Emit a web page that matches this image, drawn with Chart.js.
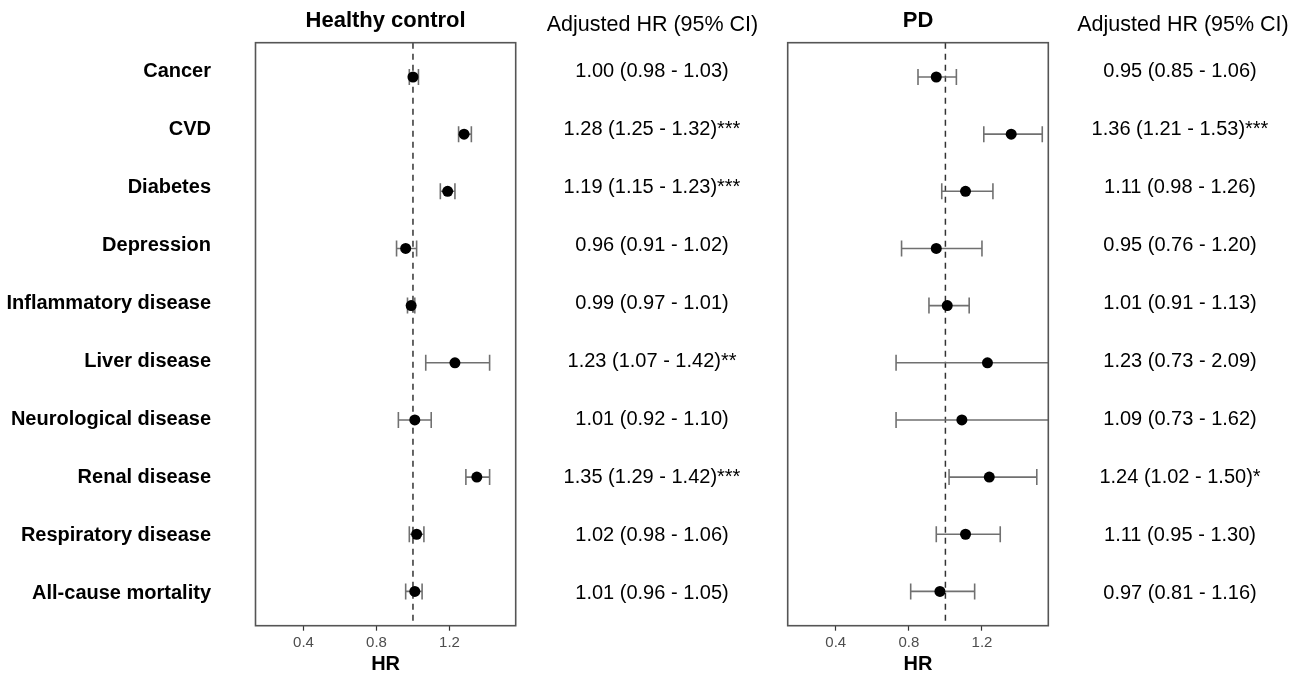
<!DOCTYPE html>
<html><head><meta charset="utf-8">
<script src="https://cdn.jsdelivr.net/npm/chart.js@4.4.0/dist/chart.umd.min.js"></script>
<style>
html,body{margin:0;padding:0;background:#fff;width:1303px;height:676px;overflow:hidden}
.wrap{position:absolute;top:0;height:676px}
#w1{left:0;width:780px}
#w2{left:780px;width:523px}
canvas{display:block}
</style></head><body>
<div class="wrap" id="w1"><canvas id="c1"></canvas></div>
<div class="wrap" id="w2"><canvas id="c2"></canvas></div>
<script>
// ---- data ----
const categories = ["Cancer","CVD","Diabetes","Depression","Inflammatory disease","Liver disease","Neurological disease","Renal disease","Respiratory disease","All-cause mortality"];

const hcHR    = [1.00,1.28,1.19,0.96,0.99,1.23,1.01,1.35,1.02,1.01];
const hcLower = [0.98,1.25,1.15,0.91,0.97,1.07,0.92,1.29,0.98,0.96];
const hcUpper = [1.03,1.32,1.23,1.02,1.01,1.42,1.10,1.42,1.06,1.05];
const hcStars = ["","***","***","","","**","","***","",""];

const pdHR    = [0.95,1.36,1.11,0.95,1.01,1.23,1.09,1.24,1.11,0.97];
const pdLower = [0.85,1.21,0.98,0.76,0.91,0.73,0.73,1.02,0.95,0.81];
const pdUpper = [1.06,1.53,1.26,1.20,1.13,2.09,1.62,1.50,1.30,1.16];
const pdStars = ["","***","","","","","","*","",""];

const xTicks = [0.4, 0.8, 1.2];
const panelTitles = ["Healthy control", "PD"];
const colHeader = "Adjusted HR (95% CI)";
const refValue = 1;

// ---- helpers ----
const FAM = '"Liberation Sans", Arial, Helvetica, sans-serif';
const fmt = v => v.toFixed(2);
const makeTexts = (hr, lo, hi, st) => hr.map((v,i)=>`${fmt(v)} (${fmt(lo[i])} - ${fmt(hi[i])})${st[i]}`);

const forestPlugin = {
  id: 'forest',
  beforeDatasetsDraw(chart, args, o) {
    const {ctx, chartArea: a, scales: {x, y}} = chart;
    ctx.save();
    ctx.beginPath(); ctx.rect(a.left, a.top, a.right - a.left, a.bottom - a.top); ctx.clip();
    const xr = x.getPixelForValue(refValue);
    ctx.strokeStyle = '#333333'; ctx.lineWidth = 1.5; ctx.setLineDash([6,5]);
    ctx.beginPath(); ctx.moveTo(xr, a.top); ctx.lineTo(xr, a.bottom); ctx.stroke();
    ctx.setLineDash([]);
    ctx.strokeStyle = '#707070'; ctx.lineWidth = 1.6;
    o.lower.forEach((lo, i) => {
      const py = y.getPixelForValue(i + 1);
      const x1 = x.getPixelForValue(lo), x2 = x.getPixelForValue(o.upper[i]);
      ctx.beginPath();
      ctx.moveTo(x1, py); ctx.lineTo(x2, py);
      ctx.moveTo(x1, py - 8); ctx.lineTo(x1, py + 8);
      ctx.moveTo(x2, py - 8); ctx.lineTo(x2, py + 8);
      ctx.stroke();
    });
    ctx.restore();
  },
  afterDraw(chart, args, o) {
    const {ctx, chartArea: a, scales: {yt}} = chart;
    ctx.save();
    // panel border
    ctx.strokeStyle = '#555555'; ctx.lineWidth = 1.6;
    ctx.strokeRect(a.left, a.top, a.right - a.left, a.bottom - a.top);
    // title
    ctx.fillStyle = '#000';
    ctx.textBaseline = 'middle';
    ctx.textAlign = 'center';
    ctx.font = `bold 22px ${FAM}`;
    ctx.fillText(o.title, (a.left + a.right) / 2, 21);
    // column header
    ctx.font = `21.5px ${FAM}`;
    ctx.fillText(colHeader, o.headerX, 25);
    // HR text column
    ctx.font = `20px ${FAM}`;
    o.texts.forEach((t, i) => ctx.fillText(t, o.textX, yt.getPixelForValue(i + 1)));
    // category labels
    if (o.labels) {
      ctx.font = `bold 20px ${FAM}`;
      ctx.textAlign = 'right';
      o.labels.forEach((t, i) => ctx.fillText(t, o.labelX, yt.getPixelForValue(i + 1)));
    }
    ctx.restore();
  }
};

function makeChart(id, hr, lo, hi, st, pad, extra) {
  return new Chart(document.getElementById(id), {
    type: 'scatter',
    data: { datasets: [{
      data: hr.map((v, i) => ({x: v, y: i + 1})),
      pointRadius: 5.5, pointHoverRadius: 5.5,
      backgroundColor: '#000', borderColor: '#000', borderWidth: 0
    }]},
    options: {
      responsive: true, maintainAspectRatio: false, animation: false,
      layout: { padding: pad },
      scales: {
        x: {
          type: 'linear', min: 0.137, max: 1.563,
          afterBuildTicks: s => { s.ticks = xTicks.map(v => ({value: v})); },
          afterFit: s => { s.height = 50.3; },
          grid: { display: true, drawOnChartArea: false, drawTicks: true, tickLength: 5, color: '#333', tickWidth: 1.2 },
          border: { display: false },
          ticks: { color: '#4d4d4d', font: { size: 15, family: FAM }, padding: 3, callback: v => Number(v).toFixed(1) },
          title: { display: true, text: 'HR', color: '#000', font: { size: 20, weight: 'bold', family: FAM }, padding: 0 }
        },
        y: { type: 'linear', min: 0.4, max: 10.6, reverse: true, display: false },
        yt: { type: 'linear', axis: 'y', position: 'left', min: 0.512, max: 10.564, reverse: true, display: false }
      },
      plugins: {
        legend: { display: false }, tooltip: { enabled: false },
        forest: Object.assign({ lower: lo, upper: hi, texts: makeTexts(hr, lo, hi, st) }, extra)
      }
    },
    plugins: [forestPlugin]
  });
}

makeChart('c1', hcHR, hcLower, hcUpper, hcStars,
  { left: 255.5, right: 264.3, top: 42.7, bottom: 0 },
  { title: panelTitles[0], headerX: 652.5, textX: 652, labels: categories, labelX: 211 });
makeChart('c2', pdHR, pdLower, pdUpper, pdStars,
  { left: 7.7, right: 254.7, top: 42.7, bottom: 0 },
  { title: panelTitles[1], headerX: 403, textX: 400 });
</script>
</body></html>
